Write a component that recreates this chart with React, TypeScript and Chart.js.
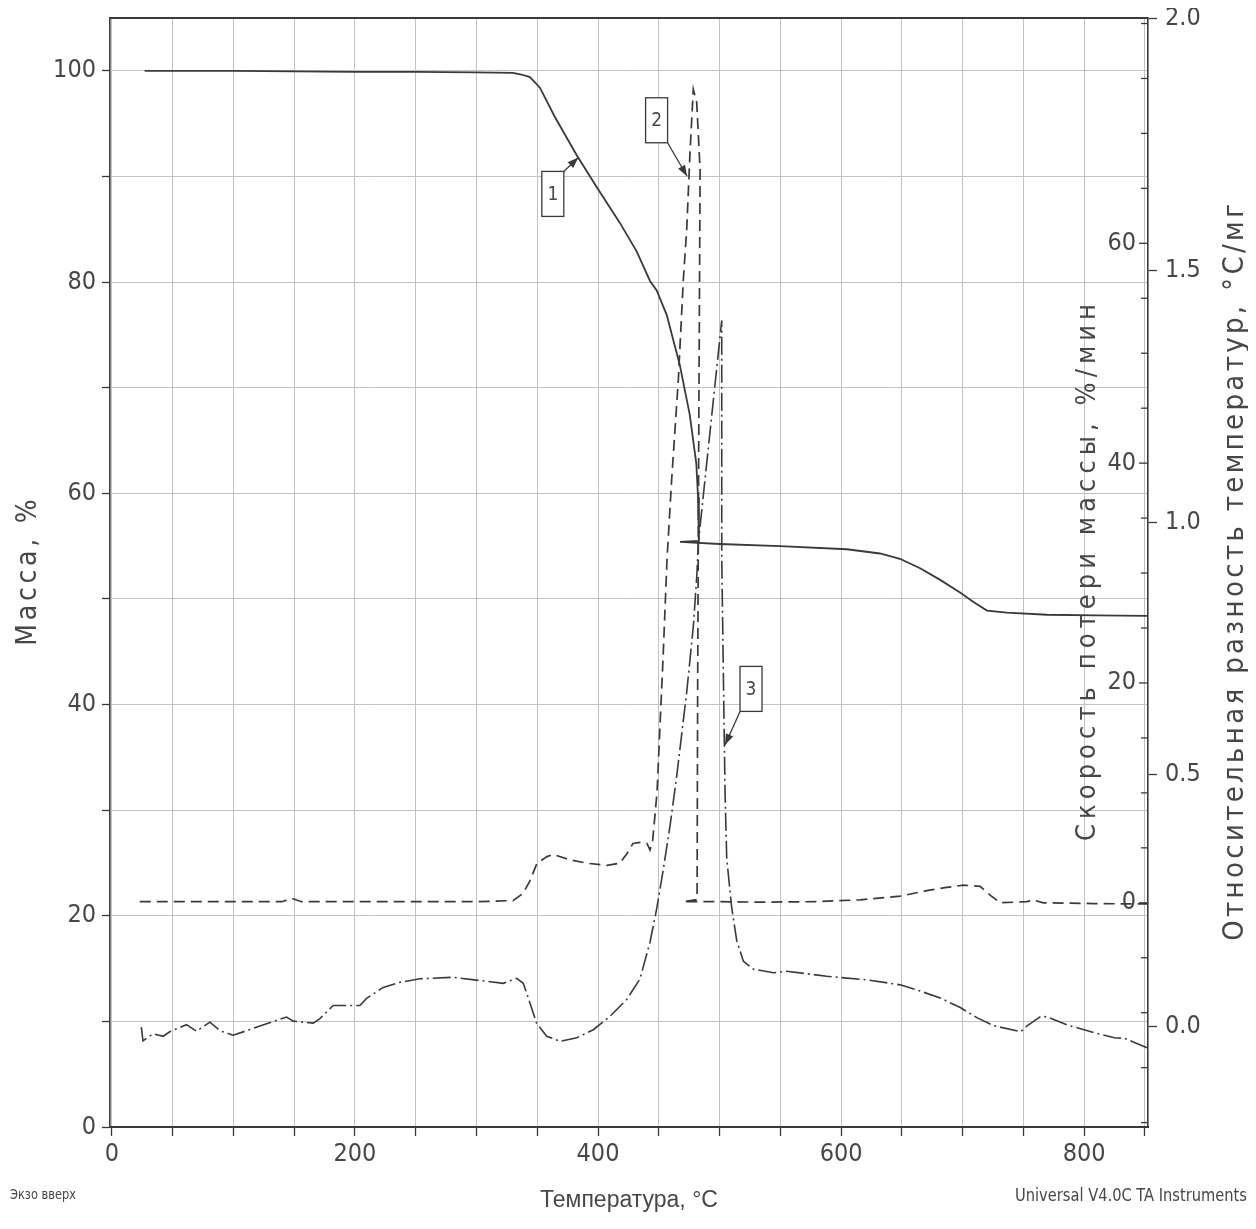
import React, { useEffect, useRef } from 'react';
import { Chart, registerables } from 'chart.js';

Chart.register(...registerables);

// ---------- data ----------
// Curve 1: TGA, mass %
const tgaTemp = [27, 60, 100, 150, 200, 250, 300, 330, 337, 344, 352.2, 364.2, 382.5, 398.9, 418, 431.8, 442.8, 448.3, 456.5, 467.2, 475.4, 480.9, 482.3, 483, 475, 467.5, 500, 549.8, 604.7, 632, 648.4, 665, 681.5, 697.9, 708.9, 720, 736.4, 769.3, 810, 852.5];
const tgaMass = [100.0, 100.0, 100.0, 99.95, 99.9, 99.9, 99.85, 99.8, 99.65, 99.4, 98.4, 95.7, 92.0, 89.0, 85.6, 82.9, 80.1, 79.2, 76.9, 72.2, 67.5, 62.8, 59.6, 55.5, 55.45, 55.4, 55.2, 55.0, 54.7, 54.3, 53.8, 52.9, 51.8, 50.6, 49.7, 48.9, 48.7, 48.5, 48.45, 48.4];

// Curve 2: DTG, mass loss rate %/min
const dtgTemp = [23, 60, 100, 140, 148, 156, 200, 250, 300, 330, 338.3, 344, 349.8, 358, 363, 377, 391, 407.4, 418, 424, 428.8, 434.6, 440.3, 442.8, 445, 448.6, 451, 453.5, 456.8, 460.6, 466.1, 470.2, 473, 475.7, 478.4, 481.2, 484, 483, 482, 481.5, 470, 500, 533.3, 580, 615.6, 648.6, 670.4, 686.9, 700.6, 714.4, 722.6, 730.9, 752.8, 758.3, 766.5, 807.7, 835, 852.5];
const dtgRate = [0.1, 0.1, 0.1, 0.1, 0.4, 0.1, 0.1, 0.1, 0.1, 0.2, 0.85, 2.0, 3.6, 4.2, 4.4, 3.9, 3.6, 3.4, 3.6, 4.5, 5.4, 5.5, 5.4, 4.8, 5.7, 10.1, 16.1, 22.2, 31.3, 38.5, 47.6, 56.7, 61.3, 68.3, 74.0, 72.8, 66.7, 45.0, 20.0, 0.3, 0.1, 0.1, 0.06, 0.1, 0.27, 0.6, 1.1, 1.4, 1.6, 1.5, 0.7, 0.0, 0.1, 0.25, 0.0, -0.07, -0.1, -0.1];

// Curve 3: DTA, relative temperature difference °C/mg
const dtaTemp = [24.3, 25.6, 33.9, 42.2, 47.7, 61.4, 69.7, 80.7, 88.9, 99.8, 110.8, 127.3, 143.8, 149.2, 165.7, 171.2, 182.1, 204.1, 209.6, 223.3, 237, 253.5, 280.9, 308.4, 322.1, 333.1, 338.5, 344, 349.5, 357.8, 368.7, 382.5, 396.1, 410, 423.6, 434.6, 442.8, 448.3, 453.8, 459.3, 464.8, 473, 478.5, 481.3, 482.6, 501.8, 501.8, 504.5, 505.9, 510, 514.2, 519.6, 527.9, 544.3, 555.2, 588.2, 621.1, 648.6, 662.3, 681.5, 698, 711.7, 725.4, 747.7, 753.3, 764.6, 770.1, 786.6, 808.5, 824.9, 833.2, 851.6];
const dtaDiff = [-0.002, -0.029, -0.015, -0.02, -0.011, 0.003, -0.01, 0.008, -0.009, -0.018, -0.009, 0.005, 0.018, 0.01, 0.006, 0.015, 0.041, 0.041, 0.055, 0.077, 0.087, 0.094, 0.097, 0.089, 0.085, 0.095, 0.085, 0.046, 0.006, -0.02, -0.03, -0.023, -0.007, 0.02, 0.053, 0.094, 0.167, 0.233, 0.312, 0.398, 0.497, 0.663, 0.795, 0.894, 0.96, 1.4, 0.928, 0.466, 0.333, 0.235, 0.169, 0.129, 0.113, 0.106, 0.109, 0.099, 0.092, 0.082, 0.072, 0.056, 0.037, 0.017, 0.001, -0.011, 0.001, 0.02, 0.018, 0.002, -0.013, -0.023, -0.024, -0.043];

// tick labels
const xTickLabels = [0, 200, 400, 600, 800];
const massTickLabels = [0, 20, 40, 60, 80, 100];
const rateTickLabels = [0, 20, 40, 60];
const dtaTickLabels = [0.0, 0.5, 1.0, 1.5, 2.0];

// numbered callouts: label, the curve's axis, and the point on the curve they mark
const calloutLabels = ['1', '2', '3'];
const calloutAxis = ['yMass', 'yRate', 'yDta'];
const calloutTemp = [383.8, 473.3, 504.5];
const calloutValue = [91.8, 66.1, 0.558];

// ---------- style / layout ----------
const NARROW = '"Liberation Sans Narrow", "DejaVu Sans Condensed", "Liberation Sans", Arial, sans-serif';
const SANS = '"Liberation Sans", Arial, sans-serif';
const INK = '#3a3a3a';
const TEXT = '#474747';
const GRID = '#c2c2c2';
const CALLOUT_OFFSETS = [[-25.5, 36.5], [-30.5, -56], [26, -56]];

const noPad = (s: any) => {
  s.paddingTop = 0;
  s.paddingBottom = 0;
  s.paddingLeft = 0;
  s.paddingRight = 0;
};

const decorations = {
  id: 'decorations',
  afterDraw(chart: any) {
    const { ctx, chartArea: ca, scales } = chart;
    ctx.save();
    // top frame
    ctx.strokeStyle = INK;
    ctx.lineWidth = 2;
    ctx.beginPath();
    ctx.moveTo(ca.left, ca.top);
    ctx.lineTo(ca.right, ca.top);
    ctx.stroke();

    // inward tick marks of the mass-loss-rate axis
    ctx.lineWidth = 1.3;
    scales.yRate.ticks.forEach((t: any) => {
      const y = scales.yRate.getPixelForValue(t.value);
      ctx.beginPath();
      ctx.moveTo(ca.right - (rateTickLabels.includes(t.value) ? 9 : 7), y);
      ctx.lineTo(ca.right, y);
      ctx.stroke();
    });

    // rotated axis titles (reading bottom to top)
    const cy = (ca.top + ca.bottom) / 2;
    const titles = [
      { text: 'Масса, %', x: ca.left - 81, len: 150, size: 28 },
      { text: 'Скорость потери массы, %/мин', x: ca.right - 60, len: 542, size: 27 },
      { text: 'Относительная разность температур, °С/мг', x: ca.right + 87, len: 740, size: 29 },
    ];
    titles.forEach((t) => {
      ctx.save();
      ctx.font = `${t.size}px ${NARROW}`;
      (ctx as any).letterSpacing = '0px';
      const w = ctx.measureText(t.text).width;
      const sp = Math.max(0, (t.len - w) / t.text.length);
      (ctx as any).letterSpacing = `${sp}px`;
      ctx.translate(t.x, cy);
      ctx.rotate(-Math.PI / 2);
      ctx.textAlign = 'center';
      ctx.textBaseline = 'middle';
      ctx.fillStyle = TEXT;
      ctx.fillText(t.text, sp / 2, 0);
      ctx.restore();
    });

    // callouts
    calloutLabels.forEach((lab, i) => {
      const tx = scales.x.getPixelForValue(calloutTemp[i]);
      const ty = scales[calloutAxis[i]].getPixelForValue(calloutValue[i]);
      const [ox, oy] = CALLOUT_OFFSETS[i];
      const bx = tx + ox;
      const by = ty + oy;
      const w = 22;
      const h = 45;
      const sx = bx - Math.sign(ox) * w / 2;
      const sy = by - Math.sign(oy) * h / 2;
      ctx.strokeStyle = INK;
      ctx.lineWidth = 1.3;
      ctx.beginPath();
      ctx.moveTo(sx, sy);
      ctx.lineTo(tx, ty);
      ctx.stroke();
      const ang = Math.atan2(ty - sy, tx - sx);
      const al = 11;
      const aw = 4;
      ctx.fillStyle = INK;
      ctx.beginPath();
      ctx.moveTo(tx, ty);
      ctx.lineTo(tx - al * Math.cos(ang) + aw * Math.sin(ang), ty - al * Math.sin(ang) - aw * Math.cos(ang));
      ctx.lineTo(tx - al * Math.cos(ang) - aw * Math.sin(ang), ty - al * Math.sin(ang) + aw * Math.cos(ang));
      ctx.closePath();
      ctx.fill();
      ctx.fillStyle = '#ffffff';
      ctx.fillRect(bx - w / 2, by - h / 2, w, h);
      ctx.strokeRect(bx - w / 2, by - h / 2, w, h);
      ctx.fillStyle = TEXT;
      ctx.font = `19px ${NARROW}`;
      ctx.textAlign = 'center';
      ctx.textBaseline = 'middle';
      ctx.fillText(lab, bx, by + 1);
    });

    // footer notes
    ctx.fillStyle = TEXT;
    ctx.textBaseline = 'middle';
    ctx.textAlign = 'left';
    ctx.font = `14px ${NARROW}`;
    ctx.fillText('Экзо вверх', 2, chart.height - 26, 66);
    ctx.textAlign = 'right';
    ctx.font = `17px ${NARROW}`;
    ctx.fillText('Universal V4.0C TA Instruments', chart.width - 1, chart.height - 24, 232);
    ctx.restore();
  },
};

const tickFont = { family: NARROW, size: 25 };

export default function App() {
  const ref = useRef<HTMLCanvasElement>(null);
  useEffect(() => {
    if (!ref.current) return;
    const chart = new Chart(ref.current, {
      type: 'line',
      data: {
        datasets: [
          {
            label: 'ТГ',
            data: tgaTemp.map((t, i) => ({ x: t, y: tgaMass[i] })),
            yAxisID: 'yMass',
            borderColor: INK,
            borderWidth: 1.8,
            pointRadius: 0,
            tension: 0,
            fill: false,
          },
          {
            label: 'ДТГ',
            data: dtgTemp.map((t, i) => ({ x: t, y: dtgRate[i] })),
            yAxisID: 'yRate',
            borderColor: INK,
            borderWidth: 1.7,
            borderDash: [11, 6],
            pointRadius: 0,
            tension: 0,
            fill: false,
          },
          {
            label: 'ДТА',
            data: dtaTemp.map((t, i) => ({ x: t, y: dtaDiff[i] })),
            yAxisID: 'yDta',
            borderColor: INK,
            borderWidth: 1.6,
            borderDash: [18, 4, 2, 4],
            pointRadius: 0,
            tension: 0,
            fill: false,
          },
        ],
      },
      options: {
        animation: false,
        responsive: true,
        maintainAspectRatio: false,
        layout: { padding: { top: 10, left: 0, right: 0, bottom: 0 } },
        plugins: { legend: { display: false }, tooltip: { enabled: false } },
        scales: {
          x: {
            type: 'linear',
            position: 'bottom',
            min: -1.5,
            max: 852.5,
            ticks: {
              stepSize: 50,
              includeBounds: false,
              autoSkip: false,
              maxRotation: 0,
              padding: 3,
              font: tickFont,
              color: TEXT,
              callback: (v: any) => (xTickLabels.includes(Number(v)) ? String(v) : ''),
            },
            grid: { color: GRID, lineWidth: 1, tickLength: 9, tickColor: INK, tickWidth: 1.3 },
            border: { color: INK, width: 2 },
            title: {
              display: true,
              text: 'Температура, °С',
              font: { family: SANS, size: 23 },
              color: TEXT,
              padding: { top: 0, bottom: 7 },
            },
            afterFit: (s: any) => { s.height = 94; noPad(s); },
          },
          yMass: {
            type: 'linear',
            position: 'left',
            min: 0,
            max: 105,
            ticks: {
              stepSize: 10,
              includeBounds: false,
              autoSkip: false,
              padding: 6,
              font: tickFont,
              color: TEXT,
              callback: (v: any) => (massTickLabels.includes(Number(v)) ? String(v) : ''),
            },
            grid: { color: GRID, lineWidth: 1, tickLength: 8, tickColor: INK, tickWidth: 1.3 },
            border: { color: INK, width: 1.6 },
            afterFit: (s: any) => { s.width = 102; noPad(s); },
          },
          yRate: {
            type: 'linear',
            position: 'right',
            weight: 0,
            min: -20.4,
            max: 80.5,
            ticks: {
              stepSize: 5,
              includeBounds: false,
              autoSkip: false,
              mirror: true,
              padding: -12,
              font: tickFont,
              color: TEXT,
              callback: (v: any) => (rateTickLabels.includes(Number(v)) ? String(v) : ''),
            },
            grid: { display: false },
            border: { display: false },
            afterFit: (s: any) => { s.width = 0; noPad(s); },
          },
          yDta: {
            type: 'linear',
            position: 'right',
            weight: 1,
            min: -0.2,
            max: 2.0,
            ticks: {
              stepSize: 0.5,
              includeBounds: false,
              autoSkip: false,
              padding: 8,
              font: tickFont,
              color: TEXT,
              callback: (v: any) =>
                dtaTickLabels.some((t) => Math.abs(t - Number(v)) < 1e-6) ? Number(v).toFixed(1) : '',
            },
            grid: { drawOnChartArea: false, tickLength: 9, tickColor: INK, tickWidth: 1.3 },
            border: { color: INK, width: 1.6 },
            afterFit: (s: any) => { s.width = 100; noPad(s); },
          },
        },
      } as any,
      plugins: [decorations],
    });
    return () => chart.destroy();
  }, []);

  return (
    <div style={{ width: 1240, height: 1213, position: 'relative', background: '#fff' }}>
      <canvas ref={ref} />
    </div>
  );
}
